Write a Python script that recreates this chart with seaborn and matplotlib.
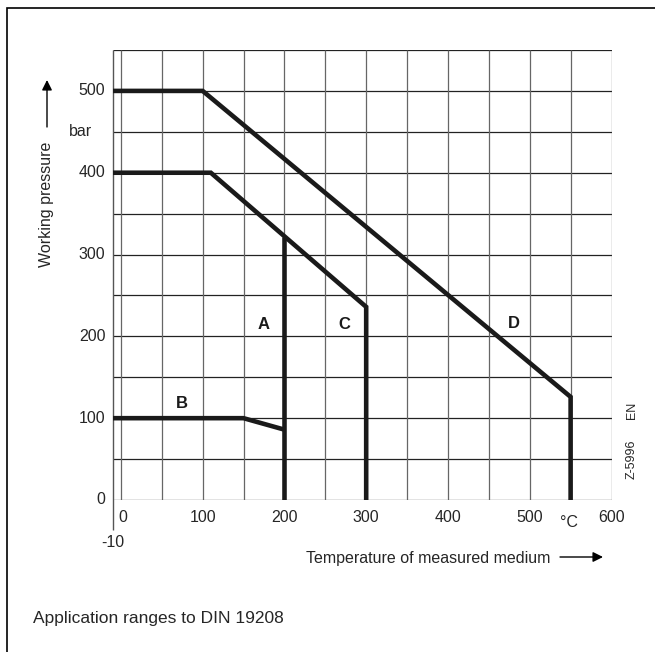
import numpy as np
import pandas as pd
import matplotlib.pyplot as plt
import matplotlib.patches as mpatches
import seaborn as sns

temp_ticks = [0, 100, 200, 300, 400, 500, 600]
press_ticks = [0, 100, 200, 300, 400, 500]

# curva D
d_temp = [-10, 100, 550, 550]
d_press = [500, 500, 126, 0]
# curva C (tramo superior 400 bar)
c_temp = [-10, 110, 300, 300]
c_press = [400, 400, 236, 0]
# curva A (vertical a 200 °C)
a_temp = [200, 200]
a_press = [0, 322]
# curva B
b_temp = [-10, 150, 200]
b_press = [100, 100, 86]

labels = ["A", "B", "C", "D"]
label_temp = [175, 74, 273, 481]
label_press = [214, 118, 214, 216]

W, H = 655, 652


def px(x, y):
    return x / W, 1 - y / H


sns.set_style("white")
plt.rcParams['font.family'] = ['Liberation Sans', 'DejaVu Sans']

fig = plt.figure(figsize=(6.55, 6.52), dpi=100)
ax = fig.add_axes([112.7 / W, 1 - 500 / H, (611.5 - 112.7) / W, 450 / H])
ax.axis("off")

# rejilla
for yv in np.arange(0, 551, 50):
    ax.hlines(yv, -10, 600, color="#222222", lw=0.9, zorder=1)
for xv in np.arange(0, 601, 50):
    ax.vlines(xv, 0, 550, color="#666666", lw=0.9, zorder=1)
ax.vlines(-10, -37, 550, color="#555555", lw=1.0, zorder=1, clip_on=False)

# curvas (estimator=None para no promediar x repetidos)
curves = {"D": (d_temp, d_press), "C": (c_temp, c_press),
          "A": (a_temp, a_press), "B": (b_temp, b_press)}
for name, (tx, py) in curves.items():
    df = pd.DataFrame({"T": tx, "p": py})
    sns.lineplot(data=df, x="T", y="p", sort=False, estimator=None, color="#1a1a1a",
                 lw=3.3, ax=ax, zorder=3, solid_joinstyle="miter", solid_capstyle="butt")

ax.set_xlim(-10, 600)
ax.set_ylim(0, 550)

for lab, tx, py in zip(labels, label_temp, label_press):
    ax.text(tx, py, lab, fontsize=12, fontweight="bold", ha="center", va="center", color="#1a1a1a")

# etiquetas de ejes
for t in temp_ticks:
    ax.text(t + (2 if t == 0 else 0), -22, str(t), ha="center", va="center", fontsize=11.5)
ax.text(-10, -52, "-10", ha="center", va="center", fontsize=11.5, clip_on=False)
ax.text(548, -28, "°C", ha="center", va="center", fontsize=11.5)
for p in press_ticks:
    ax.text(-19, p, str(p), ha="right", va="center", fontsize=11.5)

fig.text(*px(80, 132), "bar", ha="center", va="center", fontsize=11.5)
fig.text(*px(47, 204), "Working pressure", rotation=90, ha="center", va="center", fontsize=11.5)
fig.patches.append(mpatches.FancyArrowPatch(px(47, 127), px(47, 80), transform=fig.transFigure,
                                            arrowstyle="-|>,head_length=6,head_width=3",
                                            color="black", lw=1.0, shrinkA=0, shrinkB=0))

fig.text(*px(428, 559), "Temperature of measured medium", ha="center", va="center", fontsize=11.5)
fig.patches.append(mpatches.FancyArrowPatch(px(560, 557), px(603, 557), transform=fig.transFigure,
                                            arrowstyle="-|>,head_length=6,head_width=3",
                                            color="black", lw=1.0, shrinkA=0, shrinkB=0))

fig.text(*px(632, 459), "Z-5996", rotation=90, ha="center", va="center", fontsize=9)
fig.text(*px(632, 410), "EN", rotation=90, ha="center", va="center", fontsize=9)

fig.text(*px(33, 618), "Application ranges to DIN 19208", ha="left", va="center", fontsize=12.5)

# marco
fig.patches.append(mpatches.Rectangle(px(7, 700), 1.0, (700 - 8) / H, transform=fig.transFigure,
                                      fill=False, edgecolor="black", lw=1.2))

fig.savefig("out.png", dpi=100)
